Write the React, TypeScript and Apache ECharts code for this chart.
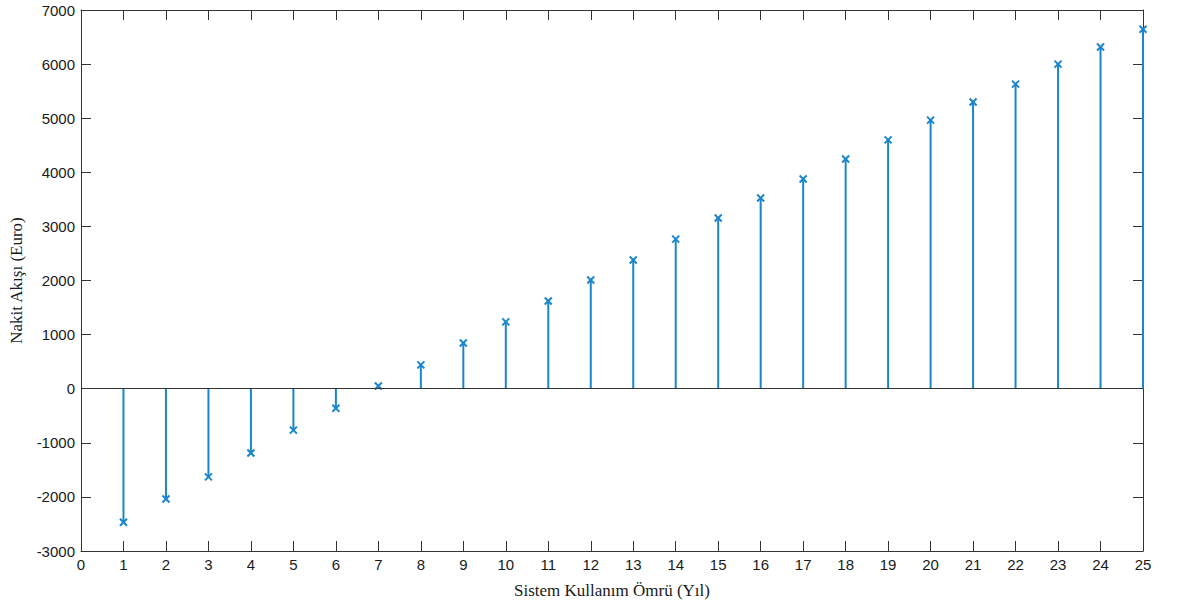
import React, { useEffect, useRef } from "react";
import * as echarts from "echarts";

const years = [1, 2, 3, 4, 5, 6, 7, 8, 9, 10, 11, 12, 13, 14, 15, 16, 17, 18, 19, 20, 21, 22, 23, 24, 25];
const cashFlow = [-2470, -2040, -1630, -1190, -765, -360, 50, 440, 845, 1235, 1620, 2010, 2380, 2765, 3155, 3525, 3875, 4245, 4600, 4965, 5300, 5630, 6000, 6315, 6645];
const xTicks = { min: 0, max: 25, interval: 1 };
const yTicks = { min: -3000, max: 7000, interval: 1000 };
const xName = "Sistem Kullanım Ömrü (Yıl)";
const yName = "Nakit Akışı (Euro)";

const STEM = "#1a86cb";
const AXIS = "#333333";
const LABEL_FONT = "'Liberation Sans', Arial, sans-serif";
const NAME_FONT = "'Liberation Serif', 'Times New Roman', serif";

export default function App() {
  const ref = useRef<HTMLDivElement>(null);
  useEffect(() => {
    const chart = echarts.init(ref.current!, null, { renderer: "svg" });
    const axisLine = { show: true, onZero: false, lineStyle: { color: AXIS, width: 1 } };
    const tick = { show: true, inside: true, length: 10, lineStyle: { color: AXIS, width: 1 } };
    const fmt = (v: number) => String(v);
    chart.setOption({
      animation: false,
      backgroundColor: "#ffffff",
      grid: { left: 81, right: 35, top: 10, bottom: 61, containLabel: false },
      xAxis: [
        {
          type: "value",
          position: "bottom",
          ...xTicks,
          axisLine,
          axisTick: tick,
          splitLine: { show: false },
          axisLabel: { color: "#1a1a1a", fontSize: 15, fontFamily: LABEL_FONT, margin: 6, formatter: fmt },
          name: xName,
          nameLocation: "middle",
          nameGap: 31,
          nameTextStyle: { color: "#1a1a1a", fontSize: 17, fontFamily: NAME_FONT },
        },
        {
          type: "value",
          position: "top",
          ...xTicks,
          axisLine,
          axisTick: tick,
          splitLine: { show: false },
          axisLabel: { show: false },
        },
      ],
      yAxis: [
        {
          type: "value",
          position: "left",
          ...yTicks,
          axisLine,
          axisTick: tick,
          splitLine: { show: false },
          axisLabel: { color: "#1a1a1a", fontSize: 15, fontFamily: LABEL_FONT, margin: 6, formatter: fmt },
          name: yName,
          nameLocation: "middle",
          nameGap: 56,
          nameTextStyle: { color: "#1a1a1a", fontSize: 17, fontFamily: NAME_FONT },
        },
        {
          type: "value",
          position: "right",
          ...yTicks,
          axisLine,
          axisTick: tick,
          splitLine: { show: false },
          axisLabel: { show: false },
        },
      ],
      series: [
        {
          type: "custom",
          xAxisIndex: 0,
          yAxisIndex: 0,
          data: years.map((y, i) => [y, cashFlow[i]]),
          clip: false,
          renderItem: (params: any, api: any) => {
            const base = api.coord([api.value(0), 0]);
            const top = api.coord([api.value(0), api.value(1)]);
            const s = 3.5;
            const style = { stroke: STEM, lineWidth: 2, fill: "none" };
            return {
              type: "group",
              children: [
                { type: "line", shape: { x1: base[0], y1: base[1], x2: top[0], y2: top[1] }, style },
                { type: "line", shape: { x1: top[0] - s, y1: top[1] - s, x2: top[0] + s, y2: top[1] + s }, style },
                { type: "line", shape: { x1: top[0] - s, y1: top[1] + s, x2: top[0] + s, y2: top[1] - s }, style },
              ],
            };
          },
          markLine: {
            silent: true,
            symbol: "none",
            label: { show: false },
            lineStyle: { color: AXIS, width: 1, type: "solid" },
            data: [{ yAxis: 0 }],
          },
          z: 3,
        },
      ],
    });
    return () => chart.dispose();
  }, []);
  return <div ref={ref} style={{ position: "absolute", left: 0, top: 0, width: 1178, height: 612, background: "#fff" }} />;
}
